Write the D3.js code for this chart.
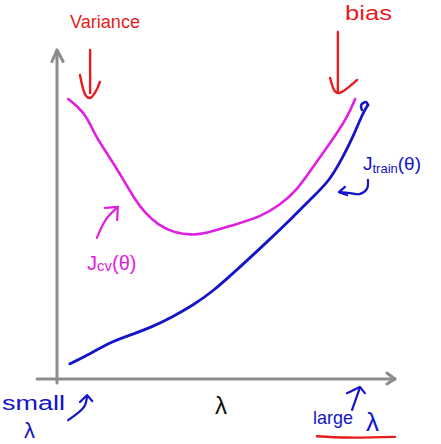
<!DOCTYPE html>
<html><head><meta charset="utf-8">
<script src="https://cdn.jsdelivr.net/npm/d3@7"></script>
<style>html,body{margin:0;padding:0;background:#fff;}svg{display:block;}</style>
</head><body>
<script>
// Data (λ on x, J on y, arbitrary units)
const lambdaCv = [0.33,0.62,0.89,1.12,1.51,1.92,2.31,2.60,2.99,3.49,3.99,4.38,5.21,6.01,6.60,7.10,7.57,8.08,8.58,8.82];
const jCv      = [8.51,8.27,7.96,7.42,6.81,6.14,5.44,5.05,4.68,4.44,4.38,4.41,4.68,4.92,5.29,5.74,6.44,7.17,7.93,8.51];
const lambdaTrain = [0.38,0.92,1.51,2.10,2.81,3.40,3.99,4.59,5.41,6.21,6.98,7.57,8.08,8.46,8.76,9.05,9.20];
const jTrain      = [0.46,0.73,1.09,1.31,1.58,1.88,2.22,2.64,3.40,4.16,4.92,5.53,6.05,6.75,7.36,8.09,8.33];
const labels = {variance:"Variance", bias:"bias", xAxis:"λ", small:"small", large:"large", lam:"λ"};

const W = 441, H = 444;
const svg = d3.select("body").append("svg").attr("width", W).attr("height", H);
const x = d3.scaleLinear().domain([0,10]).range([57,395]);
const y = d3.scaleLinear().domain([0,10]).range([379,50]);

const RED = "#e81c1c", MAG = "#e020e0", BLUE = "#1414c8", GRAY = "#8c8c8c";

const ln = d3.line().x(d=>x(d[0])).y(d=>y(d[1]));
const lnC = d3.line().x(d=>x(d[0])).y(d=>y(d[1])).curve(d3.curveCatmullRom);
const lnB = d3.line().x(d=>x(d[0])).y(d=>y(d[1])).curve(d3.curveBasis);
function path(pts, color, w, gen){
  svg.append("path").attr("d", (gen||ln)(pts)).attr("fill","none")
    .attr("stroke",color).attr("stroke-width",w).attr("stroke-linecap","round").attr("stroke-linejoin","round");
}
// Axes
path([[0,-0.12],[0,10]], GRAY, 3);
path([[-0.15,9.65],[0,10],[0.18,9.65]], GRAY, 3);
path([[-0.59,0],[10,0]], GRAY, 3);
path([[9.76,0.18],[10,0],[9.76,-0.15]], GRAY, 3);

// Curves
path(lambdaCv.map((l,i)=>[l,jCv[i]]), MAG, 2.6, lnB);
path(lambdaTrain.map((l,i)=>[l,jTrain[i]]), BLUE, 2.8, lnB);
// little hook at top of train curve
path([[9.20,8.33],[9.14,8.42],[9.0,8.33],[9.02,8.18]], BLUE, 2.6, lnC);

// Annotation arrows
path([[0.98,10.0],[0.98,8.69]], RED, 2.4);
path([[0.68,9.24],[0.85,8.62],[0.98,8.54],[1.15,8.75],[1.27,9.03]], RED, 2.4, lnC);
path([[8.31,10.55],[8.31,8.72]], RED, 2.4);
path([[8.08,9.15],[8.22,8.75],[8.34,8.69],[8.88,9.09]], RED, 2.4, lnC);
path([[1.18,4.29],[1.45,4.85],[1.80,5.23]], MAG, 2.2, lnC);
path([[1.42,5.20],[1.80,5.23],[1.78,4.83]], MAG, 2.2);
path([[9.20,6.05],[9.17,5.78],[8.95,5.62],[8.67,5.65],[8.37,5.68]], BLUE, 2.2, lnC);
path([[8.52,5.84],[8.34,5.68],[8.58,5.59]], BLUE, 2.2);
path([[0.33,-1.25],[0.80,-0.85],[0.89,-0.52]], BLUE, 2.2, lnC);
path([[0.68,-0.70],[0.89,-0.49],[1.04,-0.67]], BLUE, 2.2);
path([[8.73,-0.94],[8.96,-0.27]], BLUE, 2.2);
path([[8.58,-0.43],[8.96,-0.24],[9.11,-0.43]], BLUE, 2.2);
path([[7.69,-1.74],[8.6,-1.78],[10,-1.76]], RED, 2.4, lnC);

// Text
const F = "'Liberation Sans', 'DejaVu Sans', sans-serif";
function txt(s, px, py, size, color, len){
  const t = svg.append("text").attr("x",px).attr("y",py).attr("font-family",F)
    .attr("font-size",size).attr("fill",color).text(s);
  if(len) t.attr("textLength",len).attr("lengthAdjust","spacingAndGlyphs");
  return t;
}
txt(labels.variance, 70, 28, 18, RED, 70);
txt(labels.bias, 345, 20, 20, RED, 47);
txt(labels.xAxis, 215, 414, 24, "#111");
txt(labels.small, 2, 410, 20, BLUE, 63);
txt(labels.lam, 24, 438, 22, BLUE);
txt(labels.large, 313, 424, 19, BLUE, 40);
txt(labels.lam, 366, 431, 26, BLUE);

// J_cv(θ)
const tcv = svg.append("text").attr("x",87).attr("y",270).attr("font-family",F).attr("fill",MAG).attr("font-size",20);
tcv.append("tspan").text("J");
tcv.append("tspan").attr("font-size",15).attr("dy",1).text("cv");
tcv.append("tspan").attr("dy",-1).text("(θ)");
// J_train(θ)
const ttr = svg.append("text").attr("x",363).attr("y",170).attr("font-family",F).attr("fill",BLUE).attr("font-size",19);
ttr.append("tspan").text("J");
ttr.append("tspan").attr("font-size",13).attr("dy",3).text("train");
ttr.append("tspan").attr("dy",-3).text("(θ)");
</script>
</body></html>
